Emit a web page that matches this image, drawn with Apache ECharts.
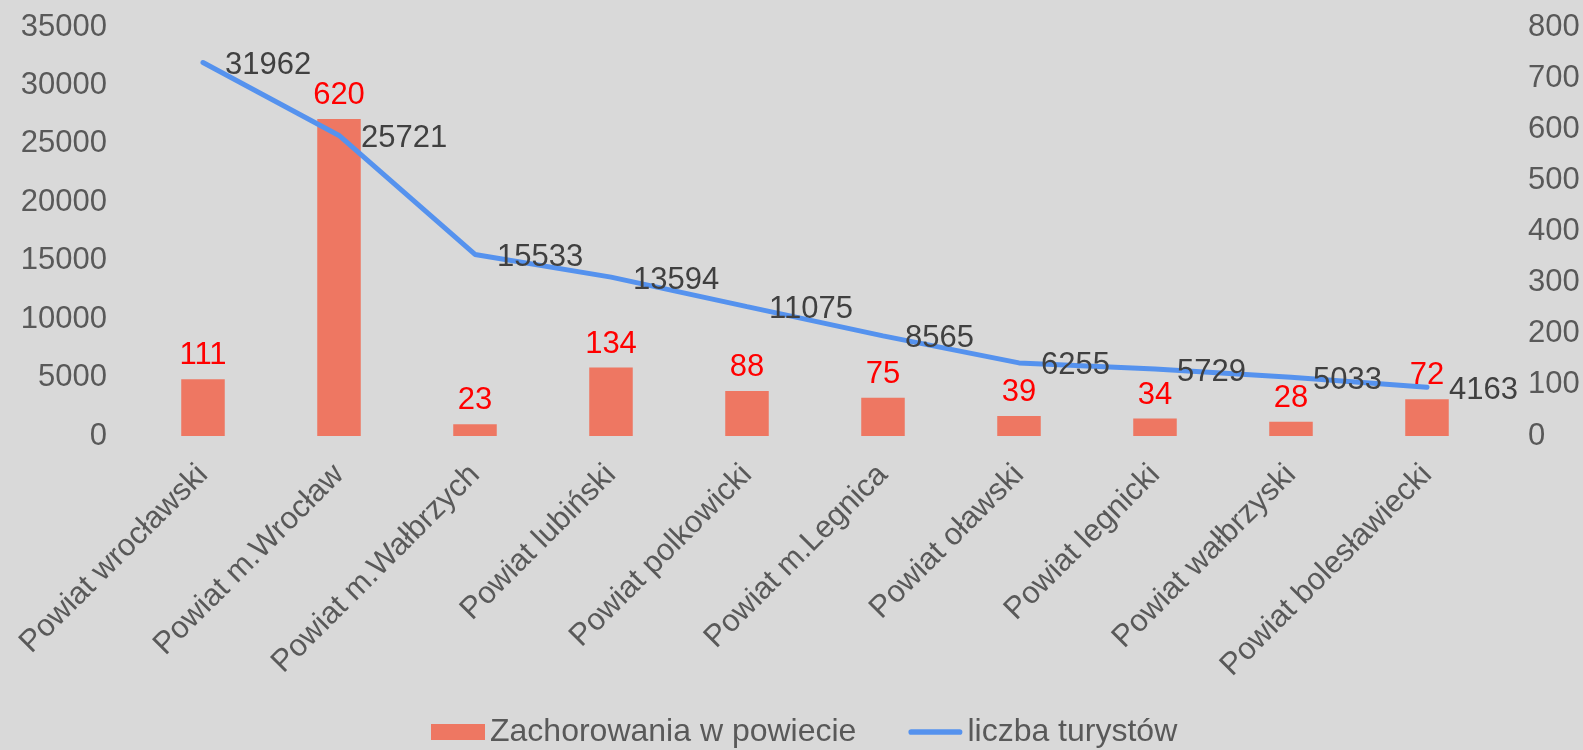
<!DOCTYPE html>
<html>
<head>
<meta charset="utf-8">
<script src="https://cdn.jsdelivr.net/npm/echarts@6/dist/echarts.min.js"></script>
<style>
  html, body { margin: 0; padding: 0; background: #d9d9d9; }
  #main { width: 1583px; height: 750px; }
</style>
</head>
<body>
<div id="main"></div>
<script>
const categories = [
  'Powiat wrocławski', 'Powiat m.Wrocław', 'Powiat m.Wałbrzych', 'Powiat lubiński',
  'Powiat polkowicki', 'Powiat m.Legnica', 'Powiat oławski', 'Powiat legnicki',
  'Powiat wałbrzyski', 'Powiat bolesławiecki'
];
const zachorowania = [111, 620, 23, 134, 88, 75, 39, 34, 28, 72];
const turysci = [31962, 25721, 15533, 13594, 11075, 8565, 6255, 5729, 5033, 4163];

const font = 'Liberation Sans, Arial, sans-serif';
const grey = '#595959';
const plain = (v) => String(v);

const chart = echarts.init(document.getElementById('main'));
chart.setOption({
  backgroundColor: '#d9d9d9',
  animation: false,
  textStyle: { fontFamily: font },
  grid: { left: 135, right: 88, top: 27, bottom: 314 },
  legend: {
    top: 711,
    left: 426,
    itemWidth: 54,
    itemHeight: 16,
    itemGap: 52,
    textStyle: { fontSize: 32, color: grey, fontFamily: font },
    data: [
      { name: 'Zachorowania w powiecie', icon: 'rect' },
      { name: 'liczba turystów', icon: 'path://M3,0 L54,0 A3,3 0 0 1 54,6 L3,6 A3,3 0 0 1 3,0 Z' }
    ]
  },
  xAxis: {
    type: 'category',
    data: categories,
    axisLine: { show: false },
    axisTick: { show: false },
    axisLabel: { rotate: 45, fontSize: 31, color: grey, interval: 0, margin: 34 }
  },
  yAxis: [
    {
      type: 'value', min: 0, max: 35000, interval: 5000,
      splitLine: { show: false },
      axisLabel: { fontSize: 31, color: grey, margin: 28, formatter: plain }
    },
    {
      type: 'value', min: 0, max: 800, interval: 100,
      splitLine: { show: false },
      axisLabel: { fontSize: 31, color: grey, margin: 33, formatter: plain }
    }
  ],
  series: [
    {
      name: 'Zachorowania w powiecie',
      type: 'bar',
      yAxisIndex: 1,
      data: zachorowania,
      barWidth: '32%',
      itemStyle: { color: '#ee7762' },
      label: { show: true, position: 'top', distance: 8, color: '#ff0000', fontSize: 31 }
    },
    {
      name: 'liczba turystów',
      type: 'line',
      yAxisIndex: 0,
      data: turysci,
      symbol: 'circle',
      symbolSize: 0,
      lineStyle: { color: '#5592ee', width: 5, cap: 'round' },
      itemStyle: { color: '#5592ee' },
      label: {
        show: true, position: 'right', distance: 22, offset: [0, 3],
        color: '#404040', fontSize: 31, formatter: (p) => String(p.value)
      }
    }
  ]
});
</script>
</body>
</html>
